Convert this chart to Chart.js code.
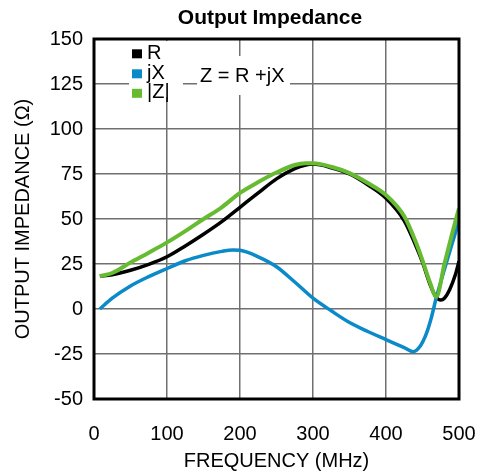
<!DOCTYPE html>
<html><head><meta charset="utf-8">
<script src="https://cdn.jsdelivr.net/npm/chart.js@4/dist/chart.umd.min.js"></script>
<style>html,body{margin:0;padding:0;background:#fff;} canvas{display:block;}</style>
</head><body>
<canvas id="c" width="483" height="475"></canvas>
<script>
const chartTitle = 'Output Impedance';
const xAxisTitle = 'FREQUENCY (MHz)';
const yAxisTitle = 'OUTPUT IMPEDANCE (Ω)';
const seriesNames = ['R', 'jX', '|Z|'];
const equationText = 'Z = R +jX';
const xTickValues = [0, 100, 200, 300, 400, 500];
const yTickValues = [-50, -25, 0, 25, 50, 75, 100, 125, 150];

// R (black)
const freqR = [8, 25, 50, 75, 100, 125, 150, 175, 200, 225, 250, 275, 290, 300, 325, 350, 375, 400, 425, 440, 450, 460, 468, 475, 480, 487, 495, 500];
const valR  = [18.3, 19, 21.5, 24.8, 29, 35, 41.5, 48.5, 56.5, 64.5, 72.3, 78, 80, 80.5, 78.5, 75, 69, 61.5, 49, 36, 26, 14, 7, 5, 6, 10.6, 19, 26.5];
// jX (blue)
const freqX = [8, 25, 50, 75, 100, 125, 150, 175, 190, 200, 225, 250, 275, 300, 325, 350, 375, 400, 425, 437, 447, 455, 462, 469, 480, 490, 500];
const valX  = [0, 6, 12.8, 18, 22.5, 26.8, 29.8, 32, 32.8, 32.6, 29, 23.5, 15, 6, -1, -7.5, -12.5, -17, -21.5, -23.7, -20.5, -14, -5, 6.5, 22, 35.5, 49];
// |Z| (green)
const freqZ = [8, 25, 50, 75, 100, 125, 150, 175, 200, 225, 250, 275, 290, 300, 325, 350, 375, 400, 425, 440, 450, 460, 469, 480, 490, 500];
const valZ  = [18.3, 20, 25.8, 31.3, 37, 43.3, 50, 56.5, 64.5, 70.5, 75.8, 80, 81, 81, 79, 75.5, 70, 63.3, 51.5, 38, 27, 15, 6.8, 25, 41, 56];

const colR = '#000000', colX = '#0a8ac8', colZ = '#67bb31';
const toPoints = (xs, ys) => xs.map((x, i) => ({x: x, y: ys[i]}));
const FONT = "'Liberation Sans', Arial, sans-serif";
const gridColor = '#707070';

const decor = {
  id: 'decor',
  beforeDatasetsDraw(chart) {
    const ctx = chart.ctx;
    ctx.save();
    ctx.fillStyle = '#ffffff';
    ctx.fillRect(129, 41, 54, 56);
    ctx.fillRect(197, 56, 93, 39);
    const cols = [colR, colX, colZ];
    const sq = [53.8, 73.8, 93.3];
    ctx.font = '20px ' + FONT;
    ctx.textBaseline = 'middle';
    ctx.textAlign = 'left';
    for (let i = 0; i < 3; i++) {
      ctx.fillStyle = cols[i];
      ctx.fillRect(132, sq[i] - 4.5, 10, 9);
      ctx.fillStyle = '#000';
      ctx.fillText(seriesNames[i], 147, sq[i] - 0.5);
    }
    ctx.fillText(equationText, 200, 76);
    ctx.restore();
  },
  afterDraw(chart) {
    const ctx = chart.ctx, a = chart.chartArea;
    ctx.save();
    ctx.strokeStyle = '#000';
    ctx.lineWidth = 3;
    ctx.strokeRect(a.left, a.top, a.right - a.left, a.bottom - a.top);
    ctx.fillStyle = '#000';
    ctx.font = 'bold 21px ' + FONT;
    ctx.textAlign = 'center';
    ctx.textBaseline = 'middle';
    ctx.fillText(chartTitle, 270, 18);
    ctx.restore();
  }
};

new Chart(document.getElementById('c'), {
  type: 'line',
  data: {
    datasets: [
      {label: seriesNames[2], data: toPoints(freqZ, valZ), borderColor: colZ, borderWidth: 4, order: 0},
      {label: seriesNames[1], data: toPoints(freqX, valX), borderColor: colX, borderWidth: 3.5, order: 1},
      {label: seriesNames[0], data: toPoints(freqR, valR), borderColor: colR, borderWidth: 3.5, order: 2}
    ]
  },
  options: {
    responsive: false,
    animation: false,
    devicePixelRatio: 1,
    layout: {padding: {left: 0, right: 24, top: 39, bottom: 0}},
    elements: {point: {radius: 0}, line: {cubicInterpolationMode: 'monotone', fill: false}},
    plugins: {legend: {display: false}, title: {display: false}, tooltip: {enabled: false}},
    scales: {
      x: {
        type: 'linear', min: 0, max: 500,
        afterBuildTicks: s => { s.ticks = xTickValues.map(v => ({value: v})); },
        afterFit: s => { s.height = 76; s.paddingLeft = 0; s.paddingRight = 0; },
        grid: {color: gridColor, lineWidth: 1.5, drawTicks: false},
        border: {display: false},
        ticks: {padding: 23, color: '#000', font: {family: FONT, size: 20}},
        title: {display: true, text: xAxisTitle, padding: {top: 0, bottom: 2}, color: '#000', font: {family: FONT, size: 20}}
      },
      y: {
        type: 'linear', min: -50, max: 150,
        afterBuildTicks: s => { s.ticks = yTickValues.map(v => ({value: v})); },
        afterFit: s => { s.width = 94; s.paddingTop = 0; s.paddingBottom = 0; },
        grid: {color: gridColor, lineWidth: 1.5, drawTicks: false},
        border: {display: false},
        ticks: {padding: 11, color: '#000', font: {family: FONT, size: 20}},
        title: {display: true, text: yAxisTitle, padding: {top: 11, bottom: 0}, color: '#000', font: {family: FONT, size: 20}}
      }
    }
  },
  plugins: [decor]
});
</script>
</body></html>
